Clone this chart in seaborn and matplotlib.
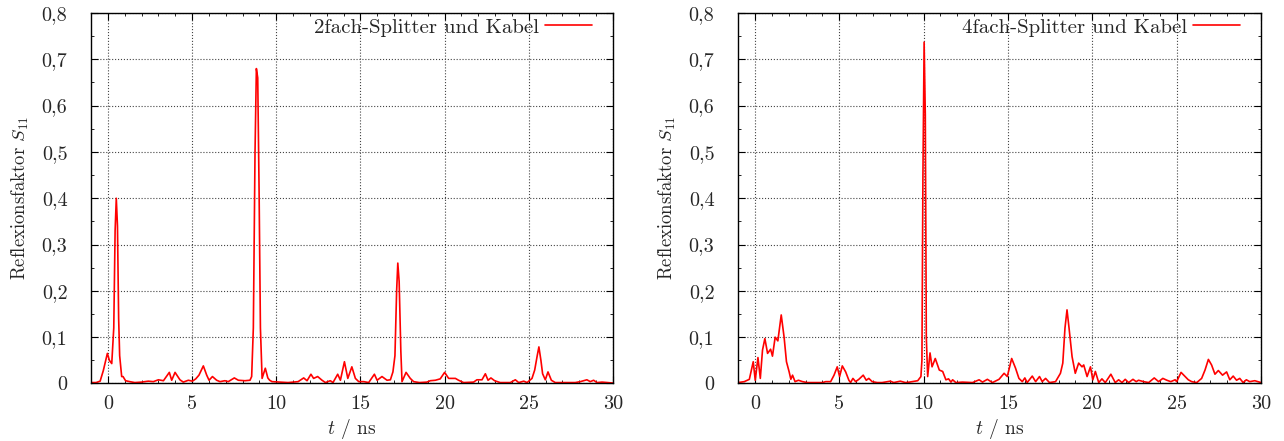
#!/usr/bin/env python3
"""Reflection factor S11 over time for the 2- and 4-way splitter with cable."""

import matplotlib.pyplot as plt
import matplotlib.ticker as mticker
import pandas as pd
import seaborn as sns

# ---------------------------------------------------------------------------
# Data (t in ns, |S11|)
# ---------------------------------------------------------------------------

T_2FACH = [
    -1.0, -0.7, -0.46, -0.27, -0.03, 0.09, 0.23, 0.35, 0.43, 0.5, 0.57, 0.64, 0.7,
    0.82, 0.9, 1.05, 1.3, 1.6, 2.0, 2.4, 2.7, 3.0, 3.3, 3.65, 3.79, 3.99, 4.28,
    4.48, 4.78, 5.02, 5.22, 5.41, 5.67, 5.87, 6.01, 6.21, 6.46, 6.66, 6.95, 7.15,
    7.51, 7.75, 8.14, 8.44, 8.54, 8.64, 8.74, 8.82, 8.9, 8.98, 9.06, 9.16, 9.35,
    9.5, 9.61, 9.75, 10.2, 10.7, 11.04, 11.3, 11.63, 11.83, 12.06, 12.22, 12.46,
    12.72, 12.92, 13.21, 13.37, 13.65, 13.81, 14.05, 14.25, 14.49, 14.7, 14.9,
    15.2, 15.49, 15.83, 15.99, 16.28, 16.58, 16.78, 16.93, 17.05, 17.15, 17.22,
    17.3, 17.4, 17.47, 17.71, 17.96, 18.16, 18.5, 18.95, 19.15, 19.45, 19.74,
    20.0, 20.24, 20.64, 20.83, 21.13, 21.72, 21.92, 22.22, 22.42, 22.58, 22.75,
    22.97, 23.3, 23.9, 24.2, 24.4, 24.7, 24.9, 25.19, 25.35, 25.5, 25.6, 25.72,
    25.82, 25.98, 26.14, 26.34, 26.57, 27.2, 27.76, 28.06, 28.45, 28.65, 28.85,
    29.05, 29.35, 29.7, 30.0,
]
S11_2FACH = [
    0.002, 0.002, 0.005, 0.028, 0.065, 0.05, 0.043, 0.12, 0.33, 0.40, 0.34, 0.14, 0.06,
    0.015, 0.015, 0.006, 0.004, 0.002, 0.003, 0.005, 0.004, 0.008, 0.006, 0.024, 0.007, 0.024, 0.008,
    0.003, 0.007, 0.005, 0.01, 0.018, 0.038, 0.018, 0.007, 0.015, 0.007, 0.004, 0.006, 0.004,
    0.012, 0.007, 0.006, 0.007, 0.015, 0.12, 0.50, 0.68, 0.66, 0.42, 0.12, 0.011, 0.033,
    0.012, 0.007, 0.004, 0.003, 0.002, 0.003, 0.004, 0.012, 0.006, 0.02, 0.011, 0.015,
    0.007, 0.002, 0.006, 0.002, 0.02, 0.007, 0.047, 0.011, 0.036, 0.011, 0.004,
    0.004, 0.002, 0.02, 0.007, 0.015, 0.007, 0.008, 0.025, 0.06, 0.20, 0.26,
    0.22, 0.07, 0.004, 0.024, 0.011, 0.004, 0.002, 0.003, 0.006, 0.007, 0.01,
    0.024, 0.011, 0.011, 0.007, 0.002, 0.003, 0.008, 0.008, 0.021, 0.007, 0.012,
    0.006, 0.002, 0.002, 0.008, 0.002, 0.005, 0.002, 0.011, 0.029, 0.06, 0.079, 0.05,
    0.021, 0.008, 0.025, 0.007, 0.002, 0.002, 0.002, 0.004, 0.008, 0.004, 0.007,
    0.002, 0.003, 0.002, 0.001,
]

T_4FACH = [
    -1.0, -0.63, -0.33, -0.1, 0.02, 0.18, 0.32, 0.45, 0.59, 0.75, 0.93, 1.04, 1.2,
    1.36, 1.56, 1.73, 1.87, 2.03, 2.13, 2.23, 2.38, 2.58, 2.82, 3.11, 3.6, 4.0,
    4.2, 4.49, 4.69, 4.88, 5.02, 5.18, 5.38, 5.57, 5.67, 5.81, 5.97, 6.16, 6.42,
    6.6, 6.75, 6.95, 7.25, 7.54, 8.03, 8.23, 8.62, 8.92, 9.16, 9.65, 9.84, 9.9,
    9.96, 10.03, 10.1, 10.16, 10.24, 10.38, 10.5, 10.69, 10.93, 11.13, 11.32,
    11.48, 11.62, 11.72, 11.91, 12.3, 12.9, 13.29, 13.49, 13.78, 14.08, 14.47,
    14.77, 14.96, 15.22, 15.45, 15.65, 15.85, 16.0, 16.14, 16.44, 16.64, 16.87,
    17.03, 17.23, 17.46, 17.82, 18.11, 18.25, 18.38, 18.5, 18.62, 18.8, 18.99,
    19.19, 19.39, 19.49, 19.69, 19.89, 20.03, 20.18, 20.38, 20.57, 20.77, 21.1,
    21.36, 21.56, 21.76, 21.95, 22.15, 22.41, 22.6, 22.74, 23.04, 23.34, 23.67,
    23.93, 24.18, 24.42, 24.65, 24.91, 25.0, 25.26, 25.5, 25.69, 25.89, 26.19,
    26.48, 26.68, 26.88, 27.07, 27.27, 27.47, 27.72, 27.96, 28.15, 28.35, 28.55,
    28.74, 28.94, 29.13, 29.33, 29.63, 30.0,
]
S11_4FACH = [
    0.002, 0.004, 0.009, 0.047, 0.007, 0.056, 0.011, 0.072, 0.097, 0.065, 0.074, 0.059, 0.10,
    0.092, 0.148, 0.10, 0.047, 0.025, 0.009, 0.018, 0.004, 0.007, 0.004, 0.002, 0.002, 0.002,
    0.004, 0.004, 0.018, 0.036, 0.015, 0.038, 0.025, 0.007, 0.002, 0.011, 0.004, 0.009, 0.018,
    0.007, 0.011, 0.004, 0.002, 0.002, 0.005, 0.002, 0.005, 0.002, 0.003, 0.006, 0.015, 0.05,
    0.45, 0.737, 0.58, 0.10, 0.015, 0.066, 0.036, 0.054, 0.029, 0.026, 0.008,
    0.01, 0.003, 0.008, 0.002, 0.003, 0.002, 0.008, 0.003, 0.009, 0.002, 0.009,
    0.022, 0.015, 0.054, 0.033, 0.011, 0.004, 0.012, 0.002, 0.016, 0.004, 0.015,
    0.004, 0.011, 0.002, 0.004, 0.022, 0.044, 0.12, 0.159, 0.12, 0.058, 0.022,
    0.044, 0.036, 0.04, 0.015, 0.036, 0.008, 0.026, 0.002, 0.01, 0.002, 0.02,
    0.002, 0.008, 0.002, 0.009, 0.002, 0.009, 0.004, 0.007, 0.004, 0.002, 0.012,
    0.004, 0.011, 0.007, 0.004, 0.008, 0.004, 0.024, 0.015, 0.008, 0.004, 0.002,
    0.011, 0.029, 0.052, 0.04, 0.02, 0.028, 0.018, 0.025, 0.008, 0.016, 0.007,
    0.011, 0.002, 0.008, 0.004, 0.006, 0.002,
]

LABELS = ["2fach-Splitter und Kabel", "4fach-Splitter und Kabel"]
Y_TICKS = [0.0, 0.1, 0.2, 0.3, 0.4, 0.5, 0.6, 0.7, 0.8]
X_TICKS = [0, 5, 10, 15, 20, 25, 30]


def comma(v, _pos=None):
    s = f"{v:.1f}".replace(".", ",")
    return "0" if s == "0,0" else s


def main():
    sns.set_theme(style="ticks")
    plt.rcParams["font.family"] = ["cmr10", "DejaVu Serif"]
    plt.rcParams["mathtext.fontset"] = "cm"
    plt.rcParams["axes.unicode_minus"] = False

    fig = plt.figure(figsize=(12.84, 4.41), dpi=100)
    ax_l = fig.add_axes([0.0709, 0.1304, 0.4065, 0.8401])
    ax_r = fig.add_axes([0.5748, 0.1304, 0.4073, 0.8401])

    series = [(T_2FACH, S11_2FACH), (T_4FACH, S11_4FACH)]
    for ax, (t, s), label in zip([ax_l, ax_r], series, LABELS):
        df = pd.DataFrame({"t": t, "s11": s})
        sns.lineplot(data=df, x="t", y="s11", ax=ax, color="#ff0000",
                     linewidth=1.2, label=label, estimator=None, sort=False)

        ax.set_xlim(-1, 30)
        ax.set_ylim(0, 0.8)
        ax.set_xticks(X_TICKS)
        ax.set_yticks(Y_TICKS)
        ax.yaxis.set_major_formatter(mticker.FuncFormatter(comma))
        ax.xaxis.set_minor_locator(mticker.MultipleLocator(1))
        ax.yaxis.set_minor_locator(mticker.MultipleLocator(0.05))
        ax.tick_params(which="both", direction="in", top=True, right=True,
                       labelsize=14.5, color="black")
        ax.tick_params(which="major", length=5, width=0.8)
        ax.tick_params(which="minor", length=2.5, width=0.6)
        ax.tick_params(axis="y", which="major", pad=17)
        ax.tick_params(axis="x", which="major", pad=8)
        ax.grid(True, which="major", linestyle=":", linewidth=0.8, color="#444444")
        for sp in ax.spines.values():
            sp.set_linewidth(1.0)
            sp.set_color("black")

        ax.set_xlabel("$t$ / ns", fontsize=14, labelpad=3)
        ax.set_ylabel("Reflexionsfaktor $S_{11}$", fontsize=13.5, labelpad=8)
        ax.legend(loc="upper right", bbox_to_anchor=(0.96, 0.986), frameon=False,
                  fontsize=15, markerfirst=False, handlelength=2.25,
                  borderaxespad=0, borderpad=0, handletextpad=0.3)

    fig.savefig("out.png", dpi=100)
    plt.close(fig)


if __name__ == "__main__":
    main()
